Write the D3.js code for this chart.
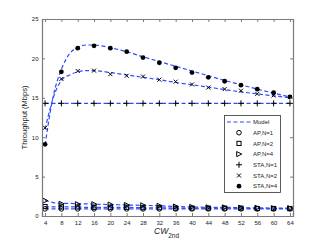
<!DOCTYPE html>
<html>
<head>
<meta charset="utf-8">
<script src="https://cdn.jsdelivr.net/npm/d3@7"></script>
<style>
  body { margin: 0; background: #fff; }
  svg { font-family: "Liberation Sans", Arial, sans-serif; }
</style>
</head>
<body>
<div id="chart"></div>
<script>
// CW_2nd values on the x axis
const cw = [4, 8, 12, 16, 20, 24, 28, 32, 36, 40, 44, 48, 52, 56, 60, 64];

// simulated throughput (Mbps)
const apN1 = [0.9, 0.9, 0.9, 0.9, 0.9, 0.9, 0.9, 0.9, 0.9, 0.9, 0.9, 0.9, 0.9, 0.9, 0.9, 0.9];
const apN2 = [1.2, 1.15, 1.15, 1.1, 1.1, 1.1, 1.05, 1.05, 1.0, 1.0, 1.0, 1.0, 1.0, 0.95, 0.95, 0.95];
const apN4 = [1.95, 1.55, 1.5, 1.5, 1.45, 1.4, 1.35, 1.3, 1.2, 1.15, 1.1, 1.1, 1.05, 1.05, 1.0, 1.0];
const staN1 = [14.3, 14.3, 14.3, 14.3, 14.3, 14.3, 14.3, 14.3, 14.3, 14.3, 14.3, 14.3, 14.3, 14.3, 14.3, 14.3];
const staN2 = [11.2, 17.4, 18.4, 18.45, 18.0, 17.8, 17.7, 17.3, 17.05, 16.7, 16.3, 16.1, 15.9, 15.5, 15.3, 15.1];
const staN4 = [9.1, 18.3, 21.3, 21.6, 21.3, 20.85, 20.1, 19.45, 18.8, 18.2, 17.6, 17.1, 16.6, 16.1, 15.65, 15.1];

// model curves (x positions and values)
const modelX = [4, 6, 8, 10, 12, 14, 16, 20, 24, 28, 32, 36, 40, 44, 48, 52, 56, 60, 64];
const modelApN1 = [0.9, 0.9, 0.9, 0.9, 0.9, 0.9, 0.9, 0.9, 0.9, 0.9, 0.9, 0.9, 0.9, 0.9, 0.9, 0.9, 0.9, 0.9, 0.9];
const modelApN2 = [1.2, 1.15, 1.15, 1.15, 1.15, 1.1, 1.1, 1.1, 1.1, 1.05, 1.05, 1.0, 1.0, 1.0, 1.0, 1.0, 0.95, 0.95, 0.95];
const modelApN4 = [2.0, 1.7, 1.6, 1.6, 1.55, 1.55, 1.5, 1.45, 1.4, 1.35, 1.3, 1.2, 1.15, 1.1, 1.1, 1.05, 1.05, 1.0, 1.0];
const modelStaN1 = [14.3, 14.3, 14.3, 14.3, 14.3, 14.3, 14.3, 14.3, 14.3, 14.3, 14.3, 14.3, 14.3, 14.3, 14.3, 14.3, 14.3, 14.3, 14.3];
const modelStaN2 = [11.0, 15.0, 17.2, 17.9, 18.3, 18.45, 18.45, 18.2, 17.9, 17.6, 17.3, 16.95, 16.65, 16.35, 16.05, 15.75, 15.5, 15.25, 15.0];
const modelStaN4 = [9.0, 15.2, 18.6, 20.6, 21.4, 21.7, 21.7, 21.35, 20.85, 20.2, 19.6, 19.0, 18.4, 17.8, 17.2, 16.65, 16.1, 15.6, 15.1];

const yTicks = [0, 5, 10, 15, 20, 25];
const legendLabels = ['Model', 'AP,N=1', 'AP,N=2', 'AP,N=4', 'STA,N=1', 'STA,N=2', 'STA,N=4'];

const width = 324, height = 244;
const margin = { top: 19, right: 31, bottom: 28, left: 42 };
const blue = '#2f4bff';

const svg = d3.select('#chart')
    .append('svg')
    .attr('width', width)
    .attr('height', height);

const x = d3.scaleLinear()
    .domain([3.25, 64.75])
    .range([margin.left, width - margin.right]);

const y = d3.scaleLinear()
    .domain([0, 25])
    .range([height - margin.bottom, margin.top]);

// model lines
const line = d3.line()
    .x(d => x(d[0]))
    .y(d => y(d[1]))
    .curve(d3.curveMonotoneX);

[modelApN1, modelApN2, modelApN4, modelStaN1, modelStaN2, modelStaN4].forEach(m => {
    svg.append('path')
        .datum(modelX.map((v, i) => [v, m[i]]))
        .attr('fill', 'none')
        .attr('stroke', blue)
        .attr('stroke-width', 1.2)
        .attr('stroke-dasharray', '4,2.5')
        .attr('d', line);
});

// marker drawing helper
function marker(g, type, cx, cy) {
    const s = 2.3;
    if (type === 'circle') {
        g.append('circle').attr('cx', cx).attr('cy', cy).attr('r', s)
            .attr('fill', 'none').attr('stroke', '#000').attr('stroke-width', 1);
    } else if (type === 'square') {
        g.append('rect').attr('x', cx - s * 0.9).attr('y', cy - s * 0.9)
            .attr('width', s * 1.8).attr('height', s * 1.8)
            .attr('fill', 'none').attr('stroke', '#000').attr('stroke-width', 1);
    } else if (type === 'triangle') {
        g.append('path')
            .attr('d', `M${cx - s},${cy - s * 1.1}L${cx + s * 1.2},${cy}L${cx - s},${cy + s * 1.1}Z`)
            .attr('fill', 'none').attr('stroke', '#000').attr('stroke-width', 1);
    } else if (type === 'plus') {
        g.append('path')
            .attr('d', `M${cx - 3},${cy}H${cx + 3}M${cx},${cy - 3}V${cy + 3}`)
            .attr('stroke', '#000').attr('stroke-width', 1);
    } else if (type === 'cross') {
        g.append('path')
            .attr('d', `M${cx - 2},${cy - 2}L${cx + 2},${cy + 2}M${cx - 2},${cy + 2}L${cx + 2},${cy - 2}`)
            .attr('stroke', '#000').attr('stroke-width', 1);
    } else if (type === 'dot') {
        g.append('circle').attr('cx', cx).attr('cy', cy).attr('r', 2.4)
            .attr('fill', '#000');
    }
}

const series = [
    { values: apN1, type: 'circle' },
    { values: apN2, type: 'square' },
    { values: apN4, type: 'triangle' },
    { values: staN1, type: 'plus' },
    { values: staN2, type: 'cross' },
    { values: staN4, type: 'dot' }
];

const marks = svg.append('g');
series.forEach(s => {
    s.values.forEach((v, i) => marker(marks, s.type, x(cw[i]), y(v)));
});

// axes frame
const frameColor = '#7a7a7a';
const axisBottom = svg.append('g')
    .attr('transform', `translate(0,${height - margin.bottom})`)
    .call(d3.axisBottom(x).tickValues(cw).tickSize(-3).tickPadding(5));
const axisTop = svg.append('g')
    .attr('transform', `translate(0,${margin.top})`)
    .call(d3.axisTop(x).tickValues(cw).tickSize(-3).tickFormat(''));
const axisLeft = svg.append('g')
    .attr('transform', `translate(${margin.left},0)`)
    .call(d3.axisLeft(y).tickValues(yTicks).tickSize(-3).tickPadding(3.5));
const axisRight = svg.append('g')
    .attr('transform', `translate(${width - margin.right},0)`)
    .call(d3.axisRight(y).tickValues(yTicks).tickSize(-3).tickFormat(''));

[axisBottom, axisTop, axisLeft, axisRight].forEach(a => {
    a.select('.domain').attr('stroke', frameColor).attr('stroke-width', 1.2);
    a.selectAll('.tick line').attr('stroke', frameColor);
    a.selectAll('.tick text').attr('fill', '#222').style('font-size', '6px');
});

// axis labels
svg.append('text')
    .attr('transform', `translate(27,${y(12.5)}) rotate(-90)`)
    .attr('text-anchor', 'middle')
    .style('font-size', '7.5px')
    .attr('fill', '#222')
    .text('Throughput (Mbps)');

const xl = svg.append('text')
    .attr('x', 154)
    .attr('y', 234)
    .attr('fill', '#222');
xl.append('tspan').style('font-size', '8.5px').style('font-style', 'italic').text('CW');
xl.append('tspan').attr('dy', 3.5).style('font-size', '6.5px').text('2nd');

// legend
const legend = svg.append('g');
legend.append('rect')
    .attr('x', 224.5).attr('y', 115.5)
    .attr('width', 56).attr('height', 77)
    .attr('fill', '#fff')
    .attr('stroke', '#333')
    .attr('stroke-width', 0.8);

const legendTypes = [null, 'circle', 'square', 'triangle', 'plus', 'cross', 'dot'];
legendLabels.forEach((label, i) => {
    const ly = 122 + i * 10.7;
    if (i === 0) {
        legend.append('line')
            .attr('x1', 227).attr('x2', 251).attr('y1', ly).attr('y2', ly)
            .attr('stroke', blue).attr('stroke-width', 1.2)
            .attr('stroke-dasharray', '4,2.5');
    } else {
        marker(legend, legendTypes[i], 239, ly);
    }
    legend.append('text')
        .attr('x', 253).attr('y', ly + 2.2)
        .style('font-size', '6px')
        .attr('fill', '#222')
        .text(label);
});
</script>
</body>
</html>
